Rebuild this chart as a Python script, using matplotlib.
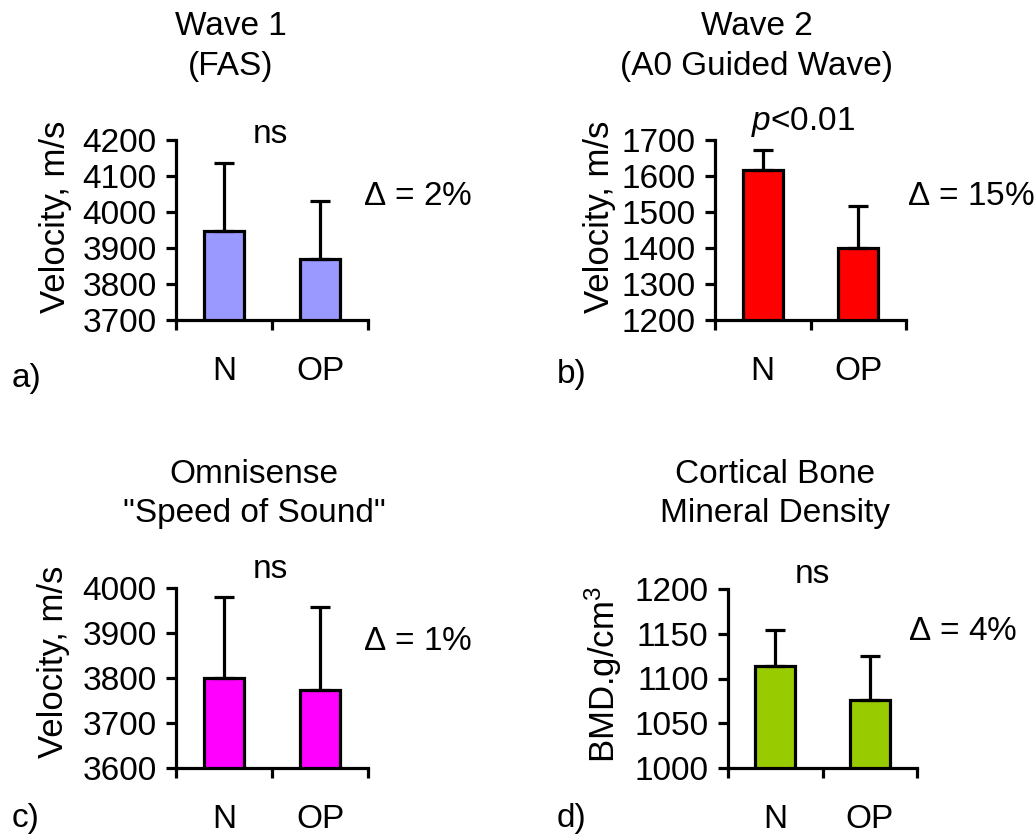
import numpy as np
import matplotlib
matplotlib.use('Agg')
import matplotlib.pyplot as plt

plt.rcParams['font.family'] = ['Liberation Sans', 'DejaVu Sans']
plt.rcParams['mathtext.fontset'] = 'custom'
plt.rcParams['mathtext.rm'] = 'Liberation Sans'
plt.rcParams['mathtext.it'] = 'Liberation Sans:italic'

W, H = 1035, 840

# data
groups = ['N', 'OP']
wave1_mean = [3947, 3869]
wave1_sd = [190, 162]
wave2_mean = [1617, 1401]
wave2_sd = [55, 115]
omni_mean = [3799, 3773]
omni_sd = [180, 184]
bmd_mean = [1114, 1076]
bmd_sd = [40, 49]

panels = [
    # title lines, ylabel, means, sds, colour, ylim, ystep, sig text, delta text, tag
    (['Wave 1', '(FAS)'], 'Velocity, m/s', wave1_mean, wave1_sd, '#9999FF',
     (3700, 4200), 100, 'ns', r'$\Delta$ = 2%', 'a)'),
    (['Wave 2', '(A0 Guided Wave)'], 'Velocity, m/s', wave2_mean, wave2_sd, '#FF0000',
     (1200, 1700), 100, '$p$<0.01', r'$\Delta$ = 15%', 'b)'),
    (['Omnisense', '"Speed of Sound"'], 'Velocity, m/s', omni_mean, omni_sd, '#FF00FF',
     (3600, 4000), 100, 'ns', r'$\Delta$ = 1%', 'c)'),
    (['Cortical Bone', 'Mineral Density'], 'BMD.g/cm$^3$', bmd_mean, bmd_sd, '#99CC00',
     (1000, 1200), 50, 'ns', r'$\Delta$ = 4%', 'd)'),
]

# layout in pixels (left, top, right, bottom)
rects = [(176, 140, 368, 320), (715, 140, 906, 320),
         (176, 588, 368, 768), (728, 589, 917, 768)]
ylabel_pos = [(-0.54, 0.575), (-0.52, 0.575), (-0.55, 0.59), (-0.55, 0.52)]
title_pos = [(231, 35, 75), (757, 35, 75), (254, 483, 522), (775, 483, 522)]
sig_pos = [(270, 143), (803, 130), (270, 578), (812, 583)]
delta_pos = [(363, 205), (907, 205), (363, 650), (908, 640)]
tag_pos = [(12, 387), (557, 383), (12, 827), (557, 827)]

fs = 24
lw = 2.3

fig = plt.figure(figsize=(W / 100, H / 100), dpi=100)


def fx(x):
    return x / W


def fy(y):
    return 1 - y / H


for i, p in enumerate(panels):
    titles, ylabel, means, sds, color, ylim, ystep, sig, delta, tag = p
    l, t, r, b = rects[i]
    ax = fig.add_axes([fx(l), fy(b), (r - l) / W, (b - t) / H])
    x = np.arange(len(groups))
    ax.bar(x, means, width=0.42, color=color, edgecolor='black', linewidth=lw, zorder=2)
    ax.errorbar(x, means, yerr=[np.zeros(len(sds)), sds], fmt='none', ecolor='black',
                elinewidth=lw, capsize=7, capthick=lw, zorder=3)
    ax.set_xlim(-0.5, 1.5)
    ax.set_ylim(*ylim)
    ax.set_yticks(np.arange(ylim[0], ylim[1] + 1, ystep))
    ax.set_xticks([-0.5, 0.5, 1.5])
    ax.set_xticklabels([])
    ax.set_xticks(x, minor=True)
    ax.set_xticklabels(groups, minor=True)
    ax.tick_params(axis='x', which='major', direction='out', length=7, width=lw)
    ax.tick_params(axis='x', which='minor', length=0, pad=26, labelsize=fs)
    ax.tick_params(axis='y', direction='out', length=7, width=lw, pad=7, labelsize=fs)
    for s in ['top', 'right']:
        ax.spines[s].set_visible(False)
    for s in ['left', 'bottom']:
        ax.spines[s].set_linewidth(lw)
    ax.set_ylabel(ylabel, fontsize=25)
    ax.yaxis.set_label_coords(*ylabel_pos[i])

    cx, y1, y2 = title_pos[i]
    fig.text(fx(cx), fy(y1), titles[0], ha='center', va='baseline', fontsize=fs)
    fig.text(fx(cx), fy(y2), titles[1], ha='center', va='baseline', fontsize=fs)
    fig.text(fx(sig_pos[i][0]), fy(sig_pos[i][1]), sig, ha='center', va='baseline', fontsize=fs)
    fig.text(fx(delta_pos[i][0]), fy(delta_pos[i][1]), delta, ha='left', va='baseline', fontsize=fs)
    fig.text(fx(tag_pos[i][0]), fy(tag_pos[i][1]), tag, ha='left', va='baseline', fontsize=fs)

fig.savefig('out.png', dpi=100, facecolor='white')
